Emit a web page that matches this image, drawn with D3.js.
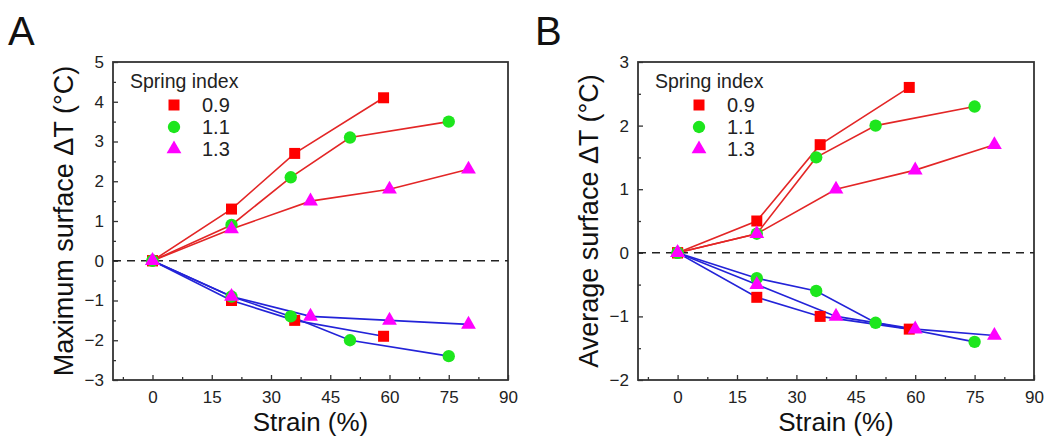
<!DOCTYPE html>
<html>
<head>
<meta charset="utf-8">
<script src="https://cdn.jsdelivr.net/npm/d3@7"></script>
<style>
  body { margin: 0; background: #fff; }
  svg { display: block; font-family: "Liberation Sans", Arial, sans-serif; }
</style>
</head>
<body>
<div id="app"></div>
<script>
// strain positions (%) for each spring index
const strainSq = [0, 20, 36, 58.5];
const strainCirc = [0, 20, 35, 50, 75];
const strainTri = [0, 20, 40, 60, 80];
const springIndex = ['0.9', '1.1', '1.3'];

// panel A: maximum surface dT (heating / cooling)
const maxHeatSq = [0, 1.3, 2.7, 4.1];
const maxHeatCirc = [0, 0.9, 2.1, 3.1, 3.5];
const maxHeatTri = [0, 0.8, 1.5, 1.8, 2.3];
const maxCoolSq = [0, -1.0, -1.5, -1.9];
const maxCoolCirc = [0, -0.9, -1.4, -2.0, -2.4];
const maxCoolTri = [0, -0.9, -1.4, -1.5, -1.6];

// panel B: average surface dT
const avgHeatSq = [0, 0.5, 1.7, 2.6];
const avgHeatCirc = [0, 0.3, 1.5, 2.0, 2.3];
const avgHeatTri = [0, 0.3, 1.0, 1.3, 1.7];
const avgCoolSq = [0, -0.7, -1.0, -1.2];
const avgCoolCirc = [0, -0.4, -0.6, -1.1, -1.4];
const avgCoolTri = [0, -0.5, -1.0, -1.2, -1.3];

const xTicks = [0, 15, 30, 45, 60, 75, 90];

const RED = '#ff0000', GREEN = '#1de61d', MAGENTA = '#ff00ff';
const LINE_RED = '#e32626', LINE_BLUE = '#2323d8';
const markers = [
	{ shape: d3.symbolSquare, size: 121, fill: RED },
	{ shape: d3.symbolCircle, size: 120, fill: GREEN },
	{ shape: d3.symbolTriangle, size: 95, fill: MAGENTA },
];

const svg = d3.select('#app').append('svg').attr('width', 1048).attr('height', 442);

const zip = (xs, ys) => xs.map((x, i) => [x, ys[i]]);

const drawPanel = (opt) => {
	const { left, top, width, height, yDomain, yTitle, letter, letterX, heat, cool } = opt;
	const g = svg.append('g').attr('transform', `translate(${left},${top})`);
	const x = d3.scaleLinear().domain([-10, 90]).range([0, width]);
	const y = d3.scaleLinear().domain(yDomain).range([height, 0]);

	// minor ticks
	const xMinor = d3.range(-7.5, 90, 7.5).filter((v) => !xTicks.includes(v));
	const yMinor = d3.range(yDomain[0] + 0.5, yDomain[1], 1);
	g.append('g').attr('transform', `translate(0,${height})`)
		.call(d3.axisBottom(x).tickValues(xMinor).tickSize(-3).tickFormat(''))
		.call((a) => a.select('.domain').remove());
	g.append('g')
		.call(d3.axisLeft(y).tickValues(yMinor).tickSize(-3).tickFormat(''))
		.call((a) => a.select('.domain').remove());

	// major ticks
	g.append('g').attr('transform', `translate(0,${height})`)
		.call(d3.axisBottom(x).tickValues(xTicks).tickSizeInner(-5).tickSizeOuter(0).tickPadding(11))
		.call((a) => a.select('.domain').remove());
	g.append('g')
		.call(d3.axisLeft(y).ticks(yDomain[1] - yDomain[0]).tickFormat(d3.format('d')).tickSizeInner(-5).tickSizeOuter(0).tickPadding(9))
		.call((a) => a.select('.domain').remove());

	g.selectAll('.tick line').attr('stroke', '#333').attr('stroke-width', 1.3);
	g.selectAll('.tick text').attr('font-size', 17).attr('fill', '#222')
		.attr('font-family', '"Liberation Sans", Arial, sans-serif');

	// frame
	g.append('rect').attr('width', width).attr('height', height)
		.attr('fill', 'none').attr('stroke', '#333').attr('stroke-width', 1.8);

	// zero line
	g.append('line').attr('x1', 0).attr('x2', width).attr('y1', y(0)).attr('y2', y(0))
		.attr('stroke', '#222').attr('stroke-width', 1.6).attr('stroke-dasharray', '8,6');

	const line = d3.line().x((d) => x(d[0])).y((d) => y(d[1]));
	const strains = [strainSq, strainCirc, strainTri];
	const heatSeries = heat.map((vals, i) => zip(strains[i], vals));
	const coolSeries = cool.map((vals, i) => zip(strains[i], vals));

	g.selectAll('path.heat').data(heatSeries).join('path').attr('class', 'heat')
		.attr('d', line).attr('fill', 'none').attr('stroke', LINE_RED).attr('stroke-width', 1.6);
	g.selectAll('path.cool').data(coolSeries).join('path').attr('class', 'cool')
		.attr('d', line).attr('fill', 'none').attr('stroke', LINE_BLUE).attr('stroke-width', 1.6);

	// markers, drawn square -> circle -> triangle
	markers.forEach((m, i) => {
		const pts = heatSeries[i].concat(coolSeries[i]);
		g.append('g').selectAll('path').data(pts).join('path')
			.attr('transform', (d) => `translate(${x(d[0])},${y(d[1])})`)
			.attr('d', d3.symbol(m.shape, m.size))
			.attr('fill', m.fill);
	});

	// legend
	const lg = g.append('g').attr('transform', 'translate(17,26)');
	lg.append('text').text('Spring index').attr('font-size', 19.5).attr('fill', '#222');
	springIndex.forEach((s, i) => {
		const row = lg.append('g').attr('transform', `translate(0,${17 + i * 22})`);
		row.append('path').attr('transform', 'translate(44,0)')
			.attr('d', d3.symbol(markers[i].shape, markers[i].size))
			.attr('fill', markers[i].fill);
		row.append('text').attr('x', 72).attr('dy', '0.35em').text(s)
			.attr('font-size', 20).attr('fill', '#222');
	});

	// axis titles
	g.append('text').attr('x', width / 2).attr('y', height + 51)
		.attr('text-anchor', 'middle').attr('font-size', 26).attr('fill', '#111')
		.text('Strain (%)');
	g.append('text')
		.attr('transform', `translate(${-49},${height / 2}) rotate(-90)`)
		.attr('text-anchor', 'middle').attr('dy', '0.35em')
		.attr('font-size', 27).attr('fill', '#111')
		.text(yTitle);

	svg.append('text').attr('x', letterX).attr('y', 45).attr('font-size', 40)
		.attr('fill', '#111').text(letter);
};

drawPanel({
	left: 113, top: 62, width: 395, height: 318,
	yDomain: [-3, 5], yTitle: 'Maximum surface ΔT (°C)',
	letter: 'A', letterX: 8,
	heat: [maxHeatSq, maxHeatCirc, maxHeatTri],
	cool: [maxCoolSq, maxCoolCirc, maxCoolTri],
});

drawPanel({
	left: 638, top: 62, width: 396, height: 318,
	yDomain: [-2, 3], yTitle: 'Average surface ΔT (°C)',
	letter: 'B', letterX: 535,
	heat: [avgHeatSq, avgHeatCirc, avgHeatTri],
	cool: [avgCoolSq, avgCoolCirc, avgCoolTri],
});
</script>
</body>
</html>
